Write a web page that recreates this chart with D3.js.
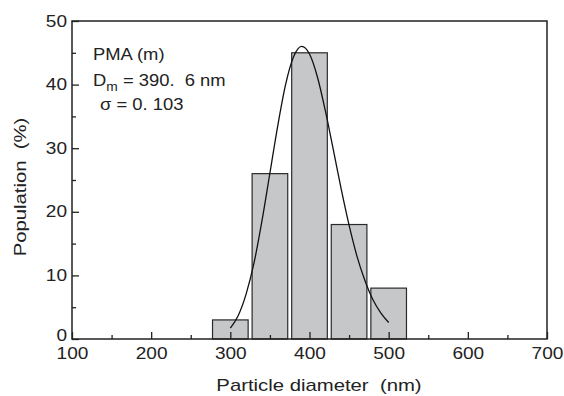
<!DOCTYPE html>
<html>
<head>
<meta charset="utf-8">
<script src="https://cdn.jsdelivr.net/npm/d3@7"></script>
<style>
  body { margin: 0; background: #fff; }
  text { font-family: "Liberation Sans", Arial, sans-serif; fill: #222; }
</style>
</head>
<body>
<div id="canvas"></div>
<script>
// histogram bins (nm) and population (%)
const binCenters = [300, 350, 400, 450, 500];
const population = [3, 26, 45, 18, 8];
// fitted curve
const curveX = [300, 310, 320, 330, 340, 350, 360, 370, 380, 390, 400, 410, 420, 430, 440, 450, 460, 470, 480, 490, 500];
const curveY = [1.7, 3.7, 7.1, 12.0, 18.6, 26.1, 33.6, 40.1, 44.4, 46.0, 44.8, 41.2, 35.9, 29.8, 23.6, 17.9, 13.0, 9.2, 6.2, 4.1, 2.6];
const xTicks = [100, 200, 300, 400, 500, 600, 700];
const yTicks = [0, 10, 20, 30, 40, 50];

const width = 564;
const height = 396;
const margin = { top: 21, left: 72, bottom: 57, right: 17 };
const iwidth = width - margin.left - margin.right;
const iheight = height - margin.top - margin.bottom;

// the original lettering is drawn a bit wide
function stretch(sel, s) {
  sel.each(function () {
    const t = d3.select(this);
    const x = +t.attr("x") || 0;
    t.attr("x", x / s).attr("transform", `scale(${s},1)`);
  });
}

const svg = d3.select("#canvas").append("svg")
  .attr("width", width)
  .attr("height", height);

const g = svg.append("g")
  .attr("transform", `translate(${margin.left},${margin.top})`);

const x = d3.scaleLinear().domain([100, 700]).range([0, iwidth]);
const y = d3.scaleLinear().domain([0, 50]).range([iheight, 0]);
const binWidth = 45;

g.selectAll("rect.bar")
  .data(binCenters)
  .enter()
  .append("rect")
  .attr("class", "bar")
  .attr("x", (d) => x(d - binWidth / 2))
  .attr("y", (d, i) => y(population[i]))
  .attr("width", (d) => x(d + binWidth / 2) - x(d - binWidth / 2))
  .attr("height", (d, i) => iheight - y(population[i]))
  .style("fill", "#c6c7c9")
  .style("stroke", "#2a2a2a")
  .style("stroke-width", 1.2);

const line = d3.line()
  .x((d) => x(d[0]))
  .y((d) => y(d[1]))
  .curve(d3.curveMonotoneX);

g.append("path")
  .datum(curveX.map((d, i) => [d, curveY[i]]))
  .attr("d", line)
  .style("fill", "none")
  .style("stroke", "#111")
  .style("stroke-width", 1.3);

// frame
g.append("rect")
  .attr("width", iwidth)
  .attr("height", iheight)
  .style("fill", "none")
  .style("stroke", "#222")
  .style("stroke-width", 1.5);

// axes with inward ticks
const xAxis = g.append("g")
  .attr("transform", `translate(0,${iheight})`)
  .call(d3.axisBottom(x).tickValues(xTicks).tickSizeInner(-7).tickSizeOuter(0).tickPadding(9));
const xMinor = g.append("g")
  .attr("transform", `translate(0,${iheight})`)
  .call(d3.axisBottom(x).tickValues(xTicks.slice(0, -1).map((d) => d + 50)).tickSizeInner(-4).tickSizeOuter(0).tickFormat(""));
const yAxis = g.append("g")
  .call(d3.axisLeft(y).tickValues(yTicks).tickSizeInner(-7).tickSizeOuter(0).tickPadding(5));
const yMinor = g.append("g")
  .call(d3.axisLeft(y).tickValues(yTicks.slice(0, -1).map((d) => d + 5)).tickSizeInner(-4).tickSizeOuter(0).tickFormat(""));

[xAxis, xMinor, yAxis, yMinor].forEach((a) => {
  a.select(".domain").remove();
  a.selectAll("line").style("stroke", "#222").style("stroke-width", 1.3);
  a.selectAll("text").style("font-size", "16px").style("fill", "#222")
    .style("font-family", "'Liberation Sans', Arial, sans-serif");
});
stretch(xAxis.selectAll("text"), 1.19);
stretch(yAxis.selectAll("text"), 1.19);
// lift the corner "0" a touch so it clears "100"
yAxis.selectAll("text").filter((d) => d === 0).attr("dy", "0.12em");

// axis titles
const xTitle = svg.append("text")
  .attr("x", 319)
  .attr("y", 391)
  .attr("text-anchor", "middle")
  .style("font-size", "16px")
  .text("Particle diameter\u00a0 (nm)");
stretch(xTitle, 1.27);

svg.append("text")
  .attr("transform", "translate(26,187) rotate(-90) scale(1.27,1)")
  .attr("text-anchor", "middle")
  .style("font-size", "16px")
  .text("Population\u00a0 (%)");

// annotation
const note = svg.append("g").style("font-size", "16px");
note.append("text").attr("x", 93).attr("y", 60).text("PMA (m)");
const dm = note.append("text").attr("x", 93).attr("y", 86.5);
dm.append("tspan").text("D");
dm.append("tspan").attr("dy", 5).style("font-size", "12px").text("m");
dm.append("tspan").attr("dy", -5).text("\u00a0= 390.\u00a0 6 nm");
note.append("text").attr("x", 100).attr("y", 110).text("\u03c3 = 0. 103");
stretch(note.selectAll("text"), 1.15);
</script>
</body>
</html>
